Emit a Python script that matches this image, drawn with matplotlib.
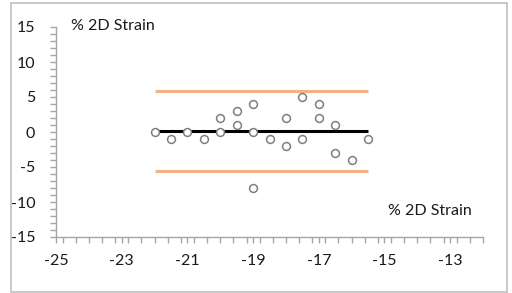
import matplotlib
matplotlib.use("Agg")
import matplotlib.pyplot as plt
from matplotlib.patches import Rectangle
from matplotlib.ticker import MultipleLocator

# Data
x_vals = [-22, -21.5, -21, -20.5, -20, -20, -19.5, -19.5, -19, -19, -19,
          -18.5, -18, -18, -17.5, -17.5, -17, -17, -16.5, -16.5, -16, -15.5]
y_vals = [0, -1, 0, -1, 2, 0, 3, 1, 4, 0, -8,
          -1, 2, -2, 5, -1, 4, 2, 1, -3, -4, -1]
line_x = [-22, -15.5]
mean_y = [0.2, 0.2]
upper_y = [5.9, 5.9]
lower_y = [-5.5, -5.5]
x_ticks = [-25, -23, -21, -19, -17, -15, -13]
y_ticks = [-15, -10, -5, 0, 5, 10, 15]
axis_label = "% 2D Strain"

plt.rcParams['font.family'] = ['Lato', 'DejaVu Sans']
plt.rcParams['axes.unicode_minus'] = False

fig = plt.figure(figsize=(5.12, 2.93), dpi=100)
ax = fig.add_axes([56/512, 1-237/293, (483-56)/512, (237-27)/293])

orange = '#F4B183'
ax.plot(line_x, upper_y, color=orange, lw=2.2, solid_capstyle='butt', zorder=2)
ax.plot(line_x, lower_y, color=orange, lw=2.2, solid_capstyle='butt', zorder=2)
ax.plot(line_x, mean_y, color='black', lw=2.2, solid_capstyle='butt', zorder=3)
ax.scatter(x_vals, y_vals, s=32, facecolors='white', edgecolors='#7f7f7f',
           linewidths=1.1, zorder=4)

ax.set_xlim(-25, -12)
ax.set_ylim(-15, 15)
ax.set_xticks(x_ticks)
ax.set_yticks(y_ticks)
ax.xaxis.set_minor_locator(MultipleLocator(0.4))
ax.yaxis.set_minor_locator(MultipleLocator(1))

for s in ['top', 'right']:
    ax.spines[s].set_visible(False)
for s in ['left', 'bottom']:
    ax.spines[s].set_color('#a6a6a6')
    ax.spines[s].set_linewidth(1)

fs = 11.5
ax.tick_params(axis='both', which='both', color='#a6a6a6', width=1,
               labelsize=fs, labelcolor='#1a1a1a')
ax.tick_params(axis='both', which='major', length=4)
ax.tick_params(axis='both', which='minor', length=4)
ax.tick_params(axis='x', which='major', pad=8)
ax.tick_params(axis='y', which='major', pad=11)

ax.text(71/512, 1-26/293, axis_label, transform=fig.transFigure,
        fontsize=fs, va='center', ha='left', color='#1a1a1a')
ax.text(388/512, 1-211/293, axis_label, transform=fig.transFigure,
        fontsize=fs, va='center', ha='left', color='#1a1a1a')

fig.patches.append(Rectangle((11/512, 1-292/293), (507-11)/512, (292-3)/293,
                             transform=fig.transFigure, fill=False,
                             edgecolor='#bfbfbf', linewidth=1.2))

fig.savefig('out.png', dpi=100)
